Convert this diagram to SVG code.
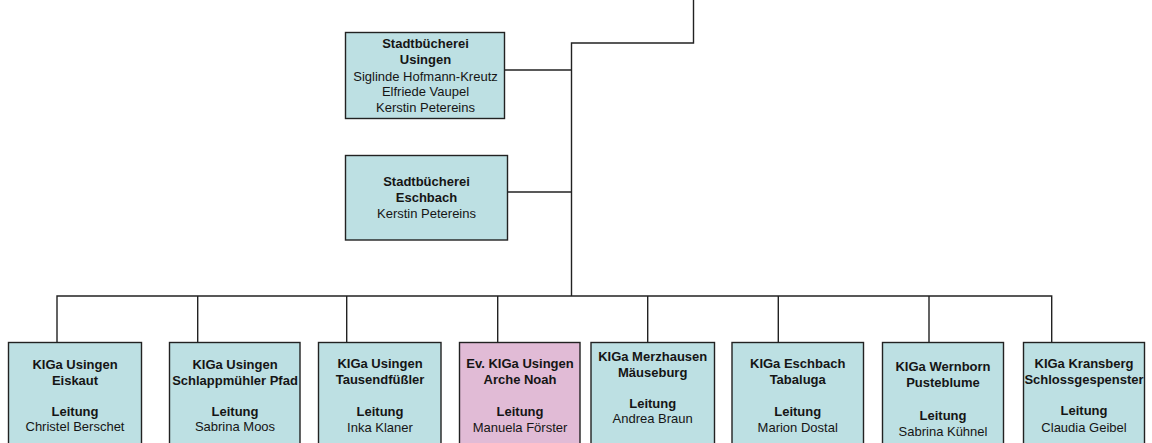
<svg xmlns="http://www.w3.org/2000/svg" width="1152" height="443" viewBox="0 0 1152 443">
<style>
.box{fill:#bde0e3;stroke:#222;stroke-width:1.4}
.pink{fill:#e1bbd6;stroke:#222;stroke-width:1.4}
.c{fill:none;stroke:#222;stroke-width:1.4}
text{font-family:"Liberation Sans",Arial,sans-serif;font-size:13px;fill:#151515;text-anchor:middle}
.b{font-weight:bold}
</style>
<rect width="1152" height="443" fill="#fff"/>
<g id="connectors">
<path class="c" d="M693.5,0 V43 H571.5 V296"/>
<path class="c" d="M504.5,70 H571.5"/>
<path class="c" d="M507.5,192 H571.5"/>
<path class="c" d="M57,342.5 V296 H1051.7 V342.5"/>
<path class="c" d="M197.7,296 V342.5 M346.7,296 V342.5 M497.7,296 V342.5 M647.7,296 V342.5 M778.3,296 V342.5 M929,296 V342.5"/>
</g>
<g id="stb-usingen">
<rect class="box" x="345.5" y="32.5" width="159" height="86"/>
<text class="b" x="425.5" y="48">Stadtbücherei</text>
<text class="b" x="425.5" y="64">Usingen</text>
<text x="425.5" y="80.5">Siglinde Hofmann-Kreutz</text>
<text x="425.5" y="96">Elfriede Vaupel</text>
<text x="425.5" y="112">Kerstin Petereins</text>
</g>
<g id="stb-eschbach">
<rect class="box" x="345.5" y="155.5" width="162" height="84.5"/>
<text class="b" x="426.5" y="186.3">Stadtbücherei</text>
<text class="b" x="426.5" y="202">Eschbach</text>
<text x="426.5" y="217.7">Kerstin Petereins</text>
</g>
<g id="kiga-eiskaut">
<rect class="box" x="8.5" y="342.5" width="133" height="110"/>
<text class="b" x="75" y="369">KIGa Usingen</text>
<text class="b" x="75" y="385">Eiskaut</text>
<text class="b" x="75" y="415.5">Leitung</text>
<text x="75" y="431">Christel Berschet</text>
</g>
<g id="kiga-schlappmuehler">
<rect class="box" x="169.5" y="342.5" width="130.5" height="110"/>
<text class="b" x="235" y="369">KIGa Usingen</text>
<text class="b" x="235" y="385">Schlappmühler Pfad</text>
<text class="b" x="235" y="415.5">Leitung</text>
<text x="235" y="431">Sabrina Moos</text>
</g>
<g id="kiga-tausendfuessler">
<rect class="box" x="318.5" y="342.5" width="122.5" height="110"/>
<text class="b" x="380" y="368">KIGa Usingen</text>
<text class="b" x="380" y="384">Tausendfüßler</text>
<text class="b" x="380" y="416">Leitung</text>
<text x="380" y="432">Inka Klaner</text>
</g>
<g id="kiga-arche-noah">
<rect class="pink" x="459.5" y="342.5" width="120.5" height="110"/>
<text class="b" x="520" y="368">Ev. KIGa Usingen</text>
<text class="b" x="520" y="384">Arche Noah</text>
<text class="b" x="520" y="416">Leitung</text>
<text x="520" y="432">Manuela Förster</text>
</g>
<g id="kiga-maeuseburg">
<rect class="box" x="591" y="342.5" width="123.5" height="110"/>
<text class="b" x="652.7" y="361">KIGa Merzhausen</text>
<text class="b" x="652.7" y="376.5">Mäuseburg</text>
<text class="b" x="652.7" y="407.5">Leitung</text>
<text x="652.7" y="423">Andrea Braun</text>
</g>
<g id="kiga-tabaluga">
<rect class="box" x="732" y="342.5" width="131.5" height="110"/>
<text class="b" x="797.7" y="368">KIGa Eschbach</text>
<text class="b" x="797.7" y="384">Tabaluga</text>
<text class="b" x="797.7" y="416">Leitung</text>
<text x="797.7" y="432">Marion Dostal</text>
</g>
<g id="kiga-pusteblume">
<rect class="box" x="882.5" y="342.5" width="121" height="110"/>
<text class="b" x="943" y="371">KIGa Wernborn</text>
<text class="b" x="943" y="387.2">Pusteblume</text>
<text class="b" x="943" y="419.6">Leitung</text>
<text x="943" y="435.8">Sabrina Kühnel</text>
</g>
<g id="kiga-schlossgespenster">
<rect class="box" x="1023.5" y="342.5" width="121" height="110"/>
<text class="b" x="1084" y="367.7">KIGa Kransberg</text>
<text class="b" x="1084" y="384.3">Schlossgespenster</text>
<text class="b" x="1084" y="415">Leitung</text>
<text x="1084" y="431.7">Claudia Geibel</text>
</g>
</svg>
